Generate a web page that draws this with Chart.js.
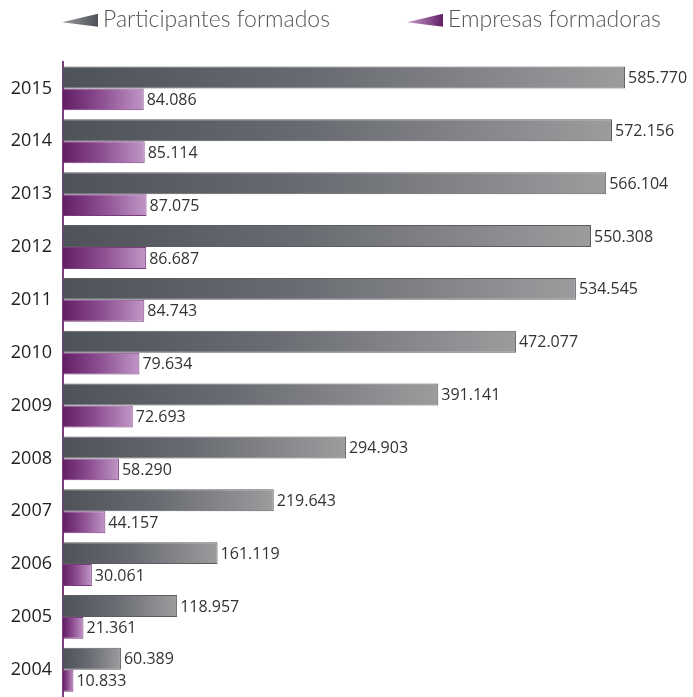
<!DOCTYPE html>
<html>
<head>
<meta charset="utf-8">
<script src="https://cdn.jsdelivr.net/npm/chart.js@4.4.1/dist/chart.umd.min.js"></script>
<style>
    body { margin: 0; background: #fff; overflow: hidden; }
    #wrap { position: relative; width: 693px; height: 697px; overflow: hidden; }
    #legend { position: absolute; top: 3px; left: 0; width: 693px; height: 30px; font-family: "Lato", sans-serif; font-weight: 300; font-size: 23px; color: #555; z-index: 2; }
    .item { position: absolute; top: 0; height: 30px; line-height: 30px; white-space: nowrap; }
    .wedge { display: inline-block; width: 36px; height: 13px; vertical-align: middle; margin-right: 5px; clip-path: polygon(0 65%, 100% 0, 100% 100%); position: relative; top: -1px; }
    canvas { display: block; }
</style>
</head>
<body>
<div id="wrap">
    <div id="legend">
        <div class="item" style="left:62px"><span class="wedge" style="background:linear-gradient(to right,#9a9a9c,#4e5259)"></span>Participantes formados</div>
        <div class="item" style="left:407px"><span class="wedge" style="background:linear-gradient(to right,#c7a0cc,#621f66)"></span>Empresas formadoras</div>
    </div>
    <canvas id="chart" width="693" height="710"></canvas>
</div>
<script>
    var years = ['2015', '2014', '2013', '2012', '2011', '2010', '2009', '2008', '2007', '2006', '2005', '2004'];
    var participantes = [585770, 572156, 566104, 550308, 534545, 472077, 391141, 294903, 219643, 161119, 118957, 60389];
    var empresas = [84086, 85114, 87075, 86687, 84743, 79634, 72693, 58290, 44157, 30061, 21361, 10833];

    function fmt(v) {
        return String(v).replace(/\B(?=(\d{3})+(?!\d))/g, '.');
    }

    // gradient that runs along each bar, from its base to its end
    function barGradient(c1, c2) {
        return function (context) {
            var chart = context.chart;
            var xs = chart.scales.x;
            if (!chart.chartArea || !xs || context.raw === undefined) return c1;
            var x0 = xs.getPixelForValue(0);
            var x1 = xs.getPixelForValue(context.raw);
            if (!isFinite(x0) || !isFinite(x1) || x1 <= x0) return c1;
            var g = chart.ctx.createLinearGradient(x0, 0, x1, 0);
            g.addColorStop(0, c1);
            g.addColorStop(0.45, c2[0]);
            g.addColorStop(1, c2[1]);
            return g;
        };
    }

    var valueLabels = {
        id: 'valueLabels',
        afterDatasetsDraw: function (chart) {
            var ctx = chart.ctx;
            ctx.save();
            ctx.font = '16px "Open Sans", sans-serif';
            ctx.fillStyle = '#333';
            ctx.textBaseline = 'middle';
            ctx.textAlign = 'left';
            chart.data.datasets.forEach(function (ds, i) {
                chart.getDatasetMeta(i).data.forEach(function (bar, j) {
                    ctx.fillText(fmt(ds.data[j]), bar.x + 3, bar.y + 1);
                });
            });
            ctx.restore();
        }
    };

    var ctx = document.getElementById('chart').getContext('2d');
    var chart = new Chart(ctx, {
        type: 'bar',
        data: {
            labels: years,
            datasets: [{
                label: 'Participantes formados',
                data: participantes,
                backgroundColor: barGradient('#4e5259', ['#686b71', '#9c9c9e']),
                borderColor: '#5c5d61',
                borderWidth: 1,
                borderSkipped: 'left',
                categoryPercentage: 0.83,
                barPercentage: 1
            }, {
                label: 'Empresas formadoras',
                data: empresas,
                backgroundColor: barGradient('#621f66', ['#8a4b8f', '#c096c6']),
                borderColor: '#7b3a80',
                borderWidth: 1,
                borderSkipped: 'left',
                categoryPercentage: 0.83,
                barPercentage: 1
            }]
        },
        options: {
            indexAxis: 'y',
            responsive: false,
            animation: false,
            layout: { padding: { top: 62, left: 0, right: 0, bottom: 0 } },
            plugins: {
                legend: { display: false },
                tooltip: { enabled: false }
            },
            scales: {
                x: {
                    display: false,
                    min: 0,
                    max: 656600
                },
                y: {
                    afterFit: function (scale) { scale.width = 63; },
                    grid: { display: false },
                    border: { color: '#7a3d7e', width: 2 },
                    ticks: {
                        color: '#222',
                        padding: 3,
                        font: { family: '"Open Sans", sans-serif', size: 18 }
                    }
                }
            }
        },
        plugins: [valueLabels]
    });
</script>
</body>
</html>
